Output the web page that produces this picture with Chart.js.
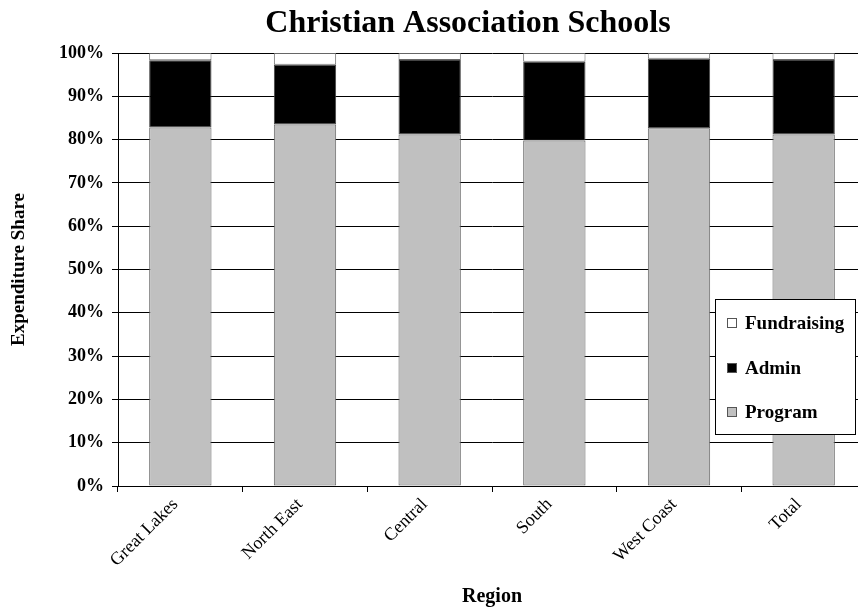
<!DOCTYPE html>
<html><head><meta charset="utf-8">
<script src="https://cdn.jsdelivr.net/npm/chart.js@4/dist/chart.umd.min.js"></script>
<style>html,body{margin:0;padding:0;overflow:hidden;background:#fff}#wrap{width:870px;height:613px}</style>
</head><body><div id="wrap"><canvas id="c" width="870" height="613"></canvas></div>
<script>
const regions = ["Great Lakes","North East","Central","South","West Coast","Total"];
const program = [82.8, 83.5, 81.2, 79.8, 82.6, 81.2];
const admin = [15.5, 13.8, 17.2, 18.2, 16.1, 17.2];
const fundraising = [1.7, 2.7, 1.6, 2.0, 1.3, 1.6];
const chartTitle = "Christian Association Schools";
const yTitle = "Expenditure Share";
const xTitle = "Region";

const serif = "'Liberation Serif','Times New Roman',serif";

const overlay = {
  id: 'overlay',
  afterDraw(chart) {
    const ctx = chart.ctx;
    ctx.save();
    // title
    ctx.fillStyle = '#000';
    ctx.font = "bold 32px " + serif;
    ctx.textAlign = 'center';
    ctx.textBaseline = 'alphabetic';
    ctx.fillText(chartTitle, 468, 32);
    // legend
    const lx = 715, ly = 299, lw = 140, lh = 135;
    ctx.fillStyle = '#fff';
    ctx.fillRect(lx, ly, lw, lh);
    ctx.strokeStyle = '#000';
    ctx.lineWidth = 1;
    ctx.strokeRect(lx + 0.5, ly + 0.5, lw, lh);
    const items = chart.data.datasets.slice().reverse();
    const ys = [323, 368, 412];
    ctx.font = "bold 19px " + serif;
    ctx.textAlign = 'left';
    ctx.textBaseline = 'middle';
    items.forEach((ds, i) => {
      ctx.fillStyle = ds.backgroundColor;
      ctx.fillRect(727, ys[i] - 5, 10, 10);
      ctx.strokeStyle = '#555';
      ctx.strokeRect(727.5, ys[i] - 4.5, 9, 9);
      ctx.fillStyle = '#000';
      ctx.fillText(ds.label, 745, ys[i] + 1);
    });
    ctx.restore();
  }
};

new Chart(document.getElementById('c'), {
  type: 'bar',
  data: {
    labels: regions,
    datasets: [
      {label: 'Program', data: program, backgroundColor: '#c0c0c0', borderColor: '#666', borderWidth: 1, borderSkipped: false},
      {label: 'Admin', data: admin, backgroundColor: '#000000', borderColor: '#444', borderWidth: 1, borderSkipped: false},
      {label: 'Fundraising', data: fundraising, backgroundColor: '#ffffff', borderColor: '#666', borderWidth: 1, borderSkipped: false}
    ]
  },
  options: {
    responsive: false,
    animation: false,
    devicePixelRatio: 1,
    layout: {padding: {top: 53, right: 4, left: 8, bottom: 0}},
    datasets: {bar: {barPercentage: 1, categoryPercentage: 0.5}},
    plugins: {legend: {display: false}, title: {display: false}, tooltip: {enabled: false}},
    scales: {
      x: {
        stacked: true,
        offset: true,
        grid: {display: true, drawOnChartArea: false, offset: true, color: '#000', tickLength: 6},
        border: {color: '#000', width: 1},
        ticks: {color: '#000', font: {family: serif, size: 18}, minRotation: 45, maxRotation: 45, padding: 2, labelOffset: -5},
        title: {display: true, text: xTitle, color: '#000', font: {family: serif, size: 20, weight: 'bold'}, padding: {top: 0, bottom: 4}},
        afterFit(s) { s.height = 127; }
      },
      y: {
        stacked: true,
        min: 0, max: 100,
        ticks: {stepSize: 10, color: '#000', font: {family: serif, size: 18, weight: 'bold'}, padding: 8, callback: v => v + '%'},
        grid: {color: '#000', tickLength: 6, drawTicks: true},
        border: {color: '#000', width: 1},
        title: {display: true, text: yTitle, color: '#000', font: {family: serif, size: 19, weight: 'bold'}, padding: {top: 0, bottom: 0}},
        afterFit(s) { s.width = 110; }
      }
    }
  },
  plugins: [overlay]
});
</script></body></html>
